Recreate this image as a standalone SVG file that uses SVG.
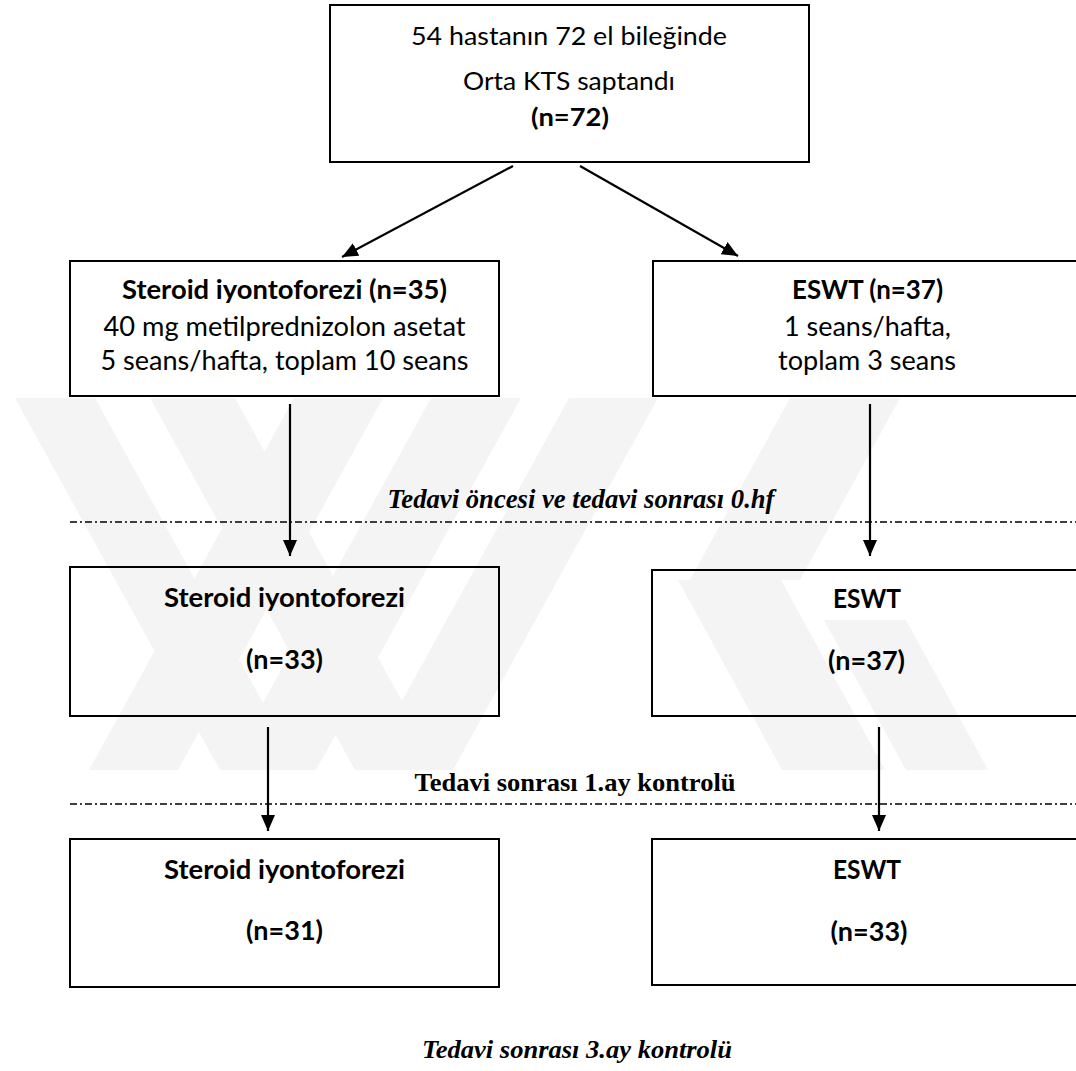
<svg xmlns="http://www.w3.org/2000/svg" width="1076" height="1071" viewBox="0 0 1076 1071">
  <style>
    .box { fill: none; stroke: #000; stroke-width: 2; }
    .c { font-family: Lato, "Open Sans", "DejaVu Sans", sans-serif; font-size: 26px; text-anchor: middle; fill: #000; }
    .t { font-size: 25px; }
    .b { font-weight: bold; }
    .s { font-family: "Liberation Serif", "Times New Roman", serif; font-weight: bold; text-anchor: middle; fill: #000; }
    .i { font-style: italic; }
    .arrow { stroke: #000; stroke-width: 2.2; fill: none; marker-end: url(#ah); }
    .sep { stroke: #000; stroke-width: 1.5; stroke-dasharray: 7 3 2 3; fill: none; }
    .wm { fill: #f4f4f4; }
  </style>
  <defs>
    <marker id="ah" viewBox="0 0 16 14" refX="16" refY="7" markerWidth="16" markerHeight="14" orient="auto" markerUnits="userSpaceOnUse">
      <path d="M0,0 L16,7 L0,14 z" fill="#000"/>
    </marker>
    <clipPath id="wmclip"><rect x="0" y="398" width="1076" height="372"/></clipPath>
  </defs>
  <rect width="1076" height="1071" fill="#fff"/>

  <g id="watermark" clip-path="url(#wmclip)">
    <polygon class="wm" points="15,398 95,398 300,770 220,770"/>
    <polygon class="wm" points="150,398 235,398 440,770 355,770"/>
    <polygon class="wm" points="294,398 383,398 178,770 89,770"/>
    <polygon class="wm" points="431,398 521,398 316,770 226,770"/>
    <polygon class="wm" points="569,398 658,398 453,770 364,770"/>
    <polygon class="wm" points="790,398 900,398 800,580 690,580"/>
    <polygon class="wm" points="678,580 781,580 885,770 782,770"/>
    <polygon class="wm" points="824,620 906,620 988,770 906,770"/>
  </g>

  <g id="separators">
    <line class="sep" x1="70" y1="522" x2="1076" y2="522"/>
    <line class="sep" x1="70" y1="804" x2="1076" y2="804"/>
    <text class="s i" x="581" y="508" font-size="28" textLength="387" lengthAdjust="spacingAndGlyphs">Tedavi öncesi ve tedavi sonrası 0.hf</text>
    <text class="s" x="575" y="791" font-size="26" textLength="321" lengthAdjust="spacingAndGlyphs">Tedavi sonrası 1.ay kontrolü</text>
    <text class="s i" x="577" y="1058" font-size="26" textLength="310" lengthAdjust="spacingAndGlyphs">Tedavi sonrası 3.ay kontrolü</text>
  </g>

  <g id="connectors">
    <line class="arrow" x1="513" y1="166" x2="342" y2="257"/>
    <line class="arrow" x1="580" y1="166" x2="738" y2="256"/>
    <line class="arrow" x1="290" y1="404" x2="290" y2="556"/>
    <line class="arrow" x1="870" y1="404" x2="870" y2="556"/>
    <line class="arrow" x1="268" y1="727" x2="268" y2="831"/>
    <line class="arrow" x1="879" y1="727" x2="879" y2="831"/>
  </g>

  <g id="node-start">
    <rect class="box" x="330" y="5" width="479" height="157"/>
    <text class="c t" x="569" y="45" textLength="316" lengthAdjust="spacingAndGlyphs">54 hastanın 72 el bileğinde</text>
    <text class="c t" x="569" y="90" textLength="212" lengthAdjust="spacingAndGlyphs">Orta KTS saptandı</text>
    <text class="c t b" x="570" y="126" textLength="78" lengthAdjust="spacingAndGlyphs">(n=72)</text>
  </g>

  <g id="node-steroid-1">
    <rect class="box" x="70" y="261" width="429" height="135"/>
    <text class="c b" x="284.5" y="299" textLength="325" lengthAdjust="spacingAndGlyphs">Steroid iyontoforezi (n=35)</text>
    <text class="c" x="284.5" y="336" textLength="362" lengthAdjust="spacingAndGlyphs">40 mg metilprednizolon asetat</text>
    <text class="c" x="284.5" y="370" textLength="368" lengthAdjust="spacingAndGlyphs">5 seans/hafta, toplam 10 seans</text>
  </g>

  <g id="node-eswt-1">
    <rect class="box" x="653" y="261" width="430" height="135"/>
    <text class="c b" x="867.5" y="299" textLength="151" lengthAdjust="spacingAndGlyphs">ESWT (n=37)</text>
    <text class="c" x="867.5" y="336" textLength="167" lengthAdjust="spacingAndGlyphs">1 seans/hafta,</text>
    <text class="c" x="867" y="370" textLength="178" lengthAdjust="spacingAndGlyphs">toplam 3 seans</text>
  </g>

  <g id="node-steroid-2">
    <rect class="box" x="70" y="567" width="429" height="149"/>
    <text class="c b" x="284.5" y="607" textLength="241" lengthAdjust="spacingAndGlyphs">Steroid iyontoforezi</text>
    <text class="c b" x="284.5" y="669" textLength="77" lengthAdjust="spacingAndGlyphs">(n=33)</text>
  </g>

  <g id="node-eswt-2">
    <rect class="box" x="652" y="570" width="431" height="146"/>
    <text class="c b" x="867" y="608" textLength="68" lengthAdjust="spacingAndGlyphs">ESWT</text>
    <text class="c b" x="866.5" y="670" textLength="77" lengthAdjust="spacingAndGlyphs">(n=37)</text>
  </g>

  <g id="node-steroid-3">
    <rect class="box" x="70" y="839" width="429" height="148"/>
    <text class="c b" x="284.5" y="879" textLength="241" lengthAdjust="spacingAndGlyphs">Steroid iyontoforezi</text>
    <text class="c b" x="284.5" y="940" textLength="77" lengthAdjust="spacingAndGlyphs">(n=31)</text>
  </g>

  <g id="node-eswt-3">
    <rect class="box" x="652" y="839" width="431" height="146"/>
    <text class="c b" x="867" y="879" textLength="68" lengthAdjust="spacingAndGlyphs">ESWT</text>
    <text class="c b" x="869" y="941" textLength="77" lengthAdjust="spacingAndGlyphs">(n=33)</text>
  </g>
</svg>
